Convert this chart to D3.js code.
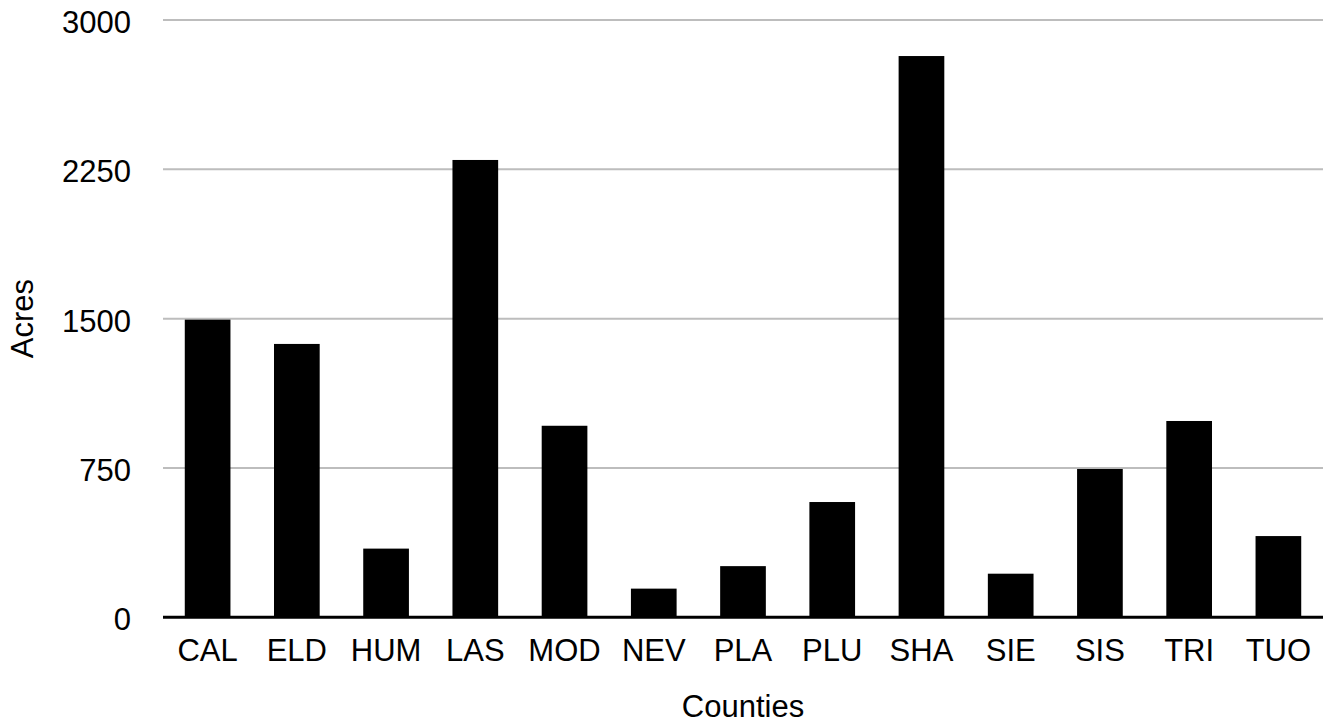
<!DOCTYPE html>
<html>
<head>
<meta charset="utf-8">
<script src="https://cdn.jsdelivr.net/npm/d3@7"></script>
<style>
  html, body { margin: 0; padding: 0; background: #fff; }
  svg { display: block; }
  text { font-family: Helvetica, "Liberation Sans", Arial, sans-serif; fill: #000; }
</style>
</head>
<body>
<svg id="chart" width="1325" height="723"></svg>
<script>
const categories = ["CAL","ELD","HUM","LAS","MOD","NEV","PLA","PLU","SHA","SIE","SIS","TRI","TUO"];
const acres = [1495, 1373, 345, 2297, 962, 144, 257, 579, 2819, 219, 745, 986, 408];
const yTicks = [0, 750, 1500, 2250, 3000];
const xTitle = "Counties";
const yTitle = "Acres";

(function () {
const svg = d3.select("#chart");
const plotLeft = 163, plotRight = 1323, plotTop = 20, plotBottom = 617.3;
const fs = 31;

const x = d3.scaleBand().domain(categories).range([plotLeft, plotRight]).paddingInner(0.488).paddingOuter(0.244);
const y = d3.scaleLinear().domain([0, 3000]).range([plotBottom, plotTop]);

// gridlines
svg.append("g").selectAll("line").data(yTicks.filter(d => d > 0)).join("line")
  .attr("x1", plotLeft).attr("x2", plotRight)
  .attr("y1", d => y(d)).attr("y2", d => y(d))
  .attr("stroke", "#bdbdbd").attr("stroke-width", 2);

// bars
svg.append("g").selectAll("rect").data(categories).join("rect")
  .attr("x", d => x(d))
  .attr("width", x.bandwidth())
  .attr("y", (d, i) => y(acres[i]))
  .attr("height", (d, i) => y(0) - y(acres[i]))
  .attr("fill", "#000");

// baseline axis
svg.append("line").attr("x1", plotLeft).attr("x2", plotRight)
  .attr("y1", y(0)).attr("y2", y(0))
  .attr("stroke", "#000").attr("stroke-width", 3);

// y tick labels
svg.append("g").selectAll("text").data(yTicks).join("text")
  .attr("x", 131).attr("y", d => y(d) + 13)
  .attr("text-anchor", "end").attr("font-size", fs)
  .text(d => d);

// x tick labels
svg.append("g").selectAll("text").data(categories).join("text")
  .attr("x", d => x(d) + x.bandwidth() / 2).attr("y", 661)
  .attr("text-anchor", "middle").attr("font-size", fs)
  .text(d => d);

// axis titles
svg.append("text").attr("x", (plotLeft + plotRight) / 2).attr("y", 716.5)
  .attr("text-anchor", "middle").attr("font-size", fs).text(xTitle);
svg.append("text").attr("transform", `translate(33.3, ${(plotTop + plotBottom) / 2}) rotate(-90)`)
  .attr("text-anchor", "middle").attr("font-size", fs).text(yTitle);
})();
</script>
</body>
</html>
